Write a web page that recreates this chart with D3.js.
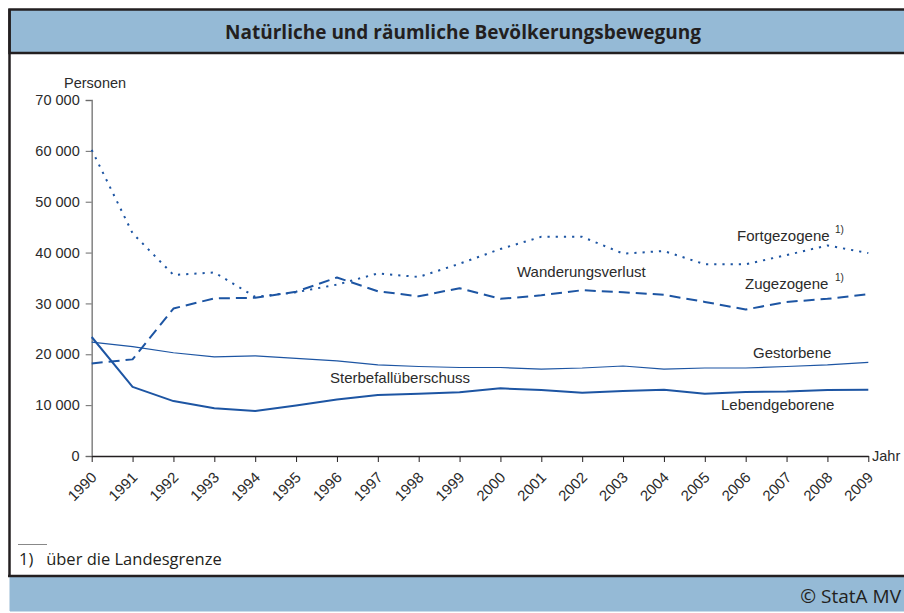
<!DOCTYPE html>
<html>
<head>
<meta charset="utf-8">
<script src="https://cdn.jsdelivr.net/npm/d3@7"></script>
<style>
	body { margin: 0; background: #fff; }
	svg { display: block; }
</style>
</head>
<body>
<script>
var years = [1990, 1991, 1992, 1993, 1994, 1995, 1996, 1997, 1998, 1999,
	2000, 2001, 2002, 2003, 2004, 2005, 2006, 2007, 2008, 2009];

var fortgezogene = [60200, 43800, 35600, 36100, 31300, 32200, 33700, 35900, 35200, 37800,
	40700, 43100, 43100, 39800, 40300, 37700, 37700, 39500, 41400, 39900];
var zugezogene = [18200, 19000, 29000, 31000, 31100, 32300, 35100, 32400, 31400, 33000,
	30900, 31600, 32600, 32200, 31700, 30300, 28800, 30300, 30900, 31800];
var gestorbene = [22400, 21500, 20300, 19500, 19700, 19200, 18700, 17900, 17600, 17400,
	17400, 17100, 17300, 17700, 17100, 17300, 17300, 17600, 17900, 18400];
var lebendgeborene = [23400, 13600, 10800, 9400, 8850, 9950, 11100, 12000, 12250, 12550,
	13300, 13000, 12450, 12800, 13050, 12250, 12600, 12700, 13000, 13050];

var yTicks = [0, 10000, 20000, 30000, 40000, 50000, 60000, 70000];

var width = 904, height = 613;
var blue = "#1d55a3";
var barFill = "#95bad6";
var textColor = "#2b2b2b";

var svg = d3.select("body").append("svg")
	.attr("width", width)
	.attr("height", height);

// frame, title bar, footer bar
svg.append("rect")
	.attr("x", 9.5).attr("y", 9.5)
	.attr("width", width + 10).attr("height", 43.5)
	.attr("fill", barFill)
	.attr("stroke", "#231f20").attr("stroke-width", 2.5);
svg.append("line")
	.attr("x1", 9.5).attr("x2", 9.5).attr("y1", 9).attr("y2", 577)
	.attr("stroke", "#231f20").attr("stroke-width", 2.5);
svg.append("rect")
	.attr("x", 9.5).attr("y", 576)
	.attr("width", width + 10).attr("height", 35)
	.attr("fill", barFill);
svg.append("line")
	.attr("x1", 8).attr("x2", width).attr("y1", 576).attr("y2", 576)
	.attr("stroke", "#231f20").attr("stroke-width", 2.5);
svg.append("line")
	.attr("x1", 10).attr("x2", width).attr("y1", 611.5).attr("y2", 611.5)
	.attr("stroke", "#c9dcea").attr("stroke-width", 1);

svg.append("text")
	.attr("x", 463).attr("y", 39)
	.attr("text-anchor", "middle")
	.attr("font-family", "Open Sans")
	.attr("font-weight", 700)
	.attr("font-size", 19)
	.attr("fill", "#231f20")
	.text("Natürliche und räumliche Bevölkerungsbewegung");

svg.append("text")
	.attr("x", 901).attr("y", 603)
	.attr("text-anchor", "end")
	.attr("font-family", "Open Sans")
	.attr("font-size", 19)
	.attr("fill", "#231f20")
	.text("© StatA MV");

// footnote
svg.append("line")
	.attr("x1", 18).attr("x2", 47).attr("y1", 544.5).attr("y2", 544.5)
	.attr("stroke", "#888").attr("stroke-width", 1);
svg.append("text")
	.attr("x", 19).attr("y", 565)
	.attr("font-family", "Open Sans")
	.attr("font-size", 16.5)
	.attr("fill", "#231f20")
	.attr("xml:space", "preserve")
	.text("1)   über die Landesgrenze");

// scales
var x = d3.scaleLinear().domain([1990, 2009]).range([91.7, 868.3]);
var y = d3.scaleLinear().domain([0, 70000]).range([456, 100]);

var fmt = function (d) { return d3.format(",")(d).replace(/,/g, " "); };

var yAxis = svg.append("g")
	.attr("transform", "translate(91.7,0)")
	.call(d3.axisLeft(y).tickValues(yTicks).tickSize(6).tickFormat(fmt));
yAxis.select(".domain").attr("stroke", "#8a8a8a").attr("stroke-width", 1.6);
yAxis.selectAll(".tick line").attr("stroke", "#6a6a6a");
yAxis.selectAll("text")
	.attr("font-family", "Liberation Sans")
	.attr("font-size", 14.5)
	.attr("fill", textColor)
	.attr("dx", -3);

var xAxis = svg.append("g")
	.attr("transform", "translate(0,456)")
	.call(d3.axisBottom(x).tickValues(years).tickSize(6).tickFormat(d3.format("d")).tickSizeOuter(0));
xAxis.select(".domain").attr("stroke", "#231f20").attr("stroke-width", 1.4);
xAxis.selectAll(".tick line").attr("stroke", "#231f20");
xAxis.selectAll("text")
	.attr("font-family", "Liberation Sans")
	.attr("font-size", 15)
	.attr("fill", textColor)
	.attr("text-anchor", "end")
	.attr("dy", 0)
	.attr("transform", "translate(-1,16) rotate(-45)");

svg.append("text")
	.attr("x", 872).attr("y", 461)
	.attr("font-family", "Liberation Sans")
	.attr("font-size", 14.5)
	.attr("fill", textColor)
	.text("Jahr");

svg.append("text")
	.attr("x", 64).attr("y", 88)
	.attr("font-family", "Liberation Sans")
	.attr("font-size", 14.5)
	.attr("fill", textColor)
	.text("Personen");

// lines
var series = [
	{name: "Fortgezogene", values: fortgezogene, width: 2, dash: "2.2,6"},
	{name: "Zugezogene", values: zugezogene, width: 2, dash: "11,6"},
	{name: "Gestorbene", values: gestorbene, width: 1.2, dash: null},
	{name: "Lebendgeborene", values: lebendgeborene, width: 2, dash: null}
];

var line = d3.line()
	.x(function (d, i) { return x(years[i]); })
	.y(function (d) { return y(d); });

svg.selectAll("path.series")
	.data(series)
	.enter()
	.append("path")
	.attr("class", "series")
	.attr("fill", "none")
	.attr("stroke", blue)
	.attr("stroke-width", function (d) { return d.width; })
	.attr("stroke-dasharray", function (d) { return d.dash; })
	.attr("stroke-linejoin", "round")
	.attr("d", function (d) { return line(d.values); });

// labels inside the plot
var labels = [
	{text: "Fortgezogene", x: 737, y: 241, sup: true},
	{text: "Wanderungsverlust", x: 517, y: 277},
	{text: "Zugezogene", x: 745, y: 289, sup: true},
	{text: "Gestorbene", x: 753, y: 358},
	{text: "Sterbefallüberschuss", x: 330, y: 383},
	{text: "Lebendgeborene", x: 721, y: 410}
];

svg.selectAll("text.label")
	.data(labels)
	.enter()
	.append("text")
	.attr("class", "label")
	.attr("x", function (d) { return d.x; })
	.attr("y", function (d) { return d.y; })
	.attr("font-family", "Liberation Sans")
	.attr("font-size", 15)
	.attr("fill", textColor)
	.text(function (d) { return d.text; });

svg.selectAll("text.sup")
	.data(labels.filter(function (d) { return d.sup; }))
	.enter()
	.append("text")
	.attr("class", "sup")
	.attr("x", 835)
	.attr("y", function (d) { return d.y - 8; })
	.attr("font-family", "Liberation Sans")
	.attr("font-size", 10)
	.attr("fill", textColor)
	.text("1)");
</script>
</body>
</html>
